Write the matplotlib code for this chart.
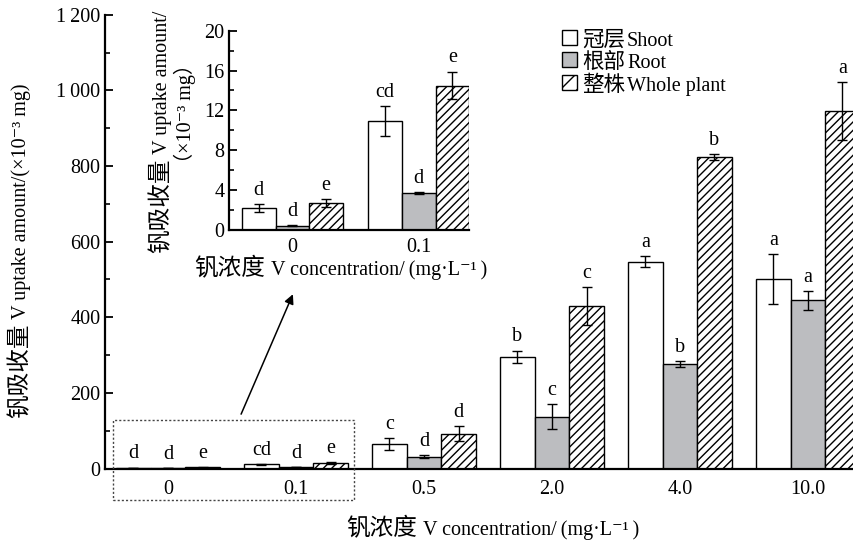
import numpy as np
import matplotlib
matplotlib.use("Agg")
import matplotlib.pyplot as plt
from matplotlib.patches import Rectangle, FancyArrowPatch
from matplotlib.ticker import MultipleLocator, FuncFormatter

plt.rcParams['font.family'] = ['Liberation Serif', 'Noto Sans CJK SC', 'DejaVu Serif']
plt.rcParams['hatch.linewidth'] = 1.0

conc = ['0', '0.1', '0.5', '2.0', '4.0', '10.0']
shoot = [2.2, 10.9, 65, 295, 547, 501]
shoot_err = [0.37, 1.5, 16, 17, 14, 67]
root = [0.43, 3.7, 31, 137, 276, 445]
root_err = [0.05, 0.1, 4, 33, 7.5, 25]
whole = [2.7, 14.5, 92, 430, 823, 945]
whole_err = [0.4, 1.4, 20, 50, 8, 76]
let_shoot = ['d', 'cd', 'c', 'b', 'a', 'a']
let_root = ['d', 'd', 'd', 'c', 'b', 'a']
let_whole = ['e', 'e', 'd', 'c', 'b', 'a']
legend_cn = ['冠层', '根部', '整株']
legend_en = ['Shoot', 'Root', 'Whole plant']

gray = '#bcbdc0'
fs = 14.5      # latin text
fs_cn = 17     # chinese text in axis titles
W, H = 854, 542

fig = plt.figure(figsize=(W / 100, H / 100), dpi=100)


def fx(px):
    return px / W


def fy(py):
    return 1 - py / H


def rich_text(x, y, pieces, rotation=0, gap=5, align='center'):
    # x, y in image pixels; y is the baseline; pieces of (text, size)
    r = fig.canvas.get_renderer()
    widths = []
    for s, sz in pieces:
        t = fig.text(0, 0, s, fontsize=sz)
        widths.append(t.get_window_extent(r).width)
        t.remove()
    total = sum(widths) + gap * (len(pieces) - 1)
    pos = -total / 2 if align == 'center' else 0
    for (s, sz), w in zip(pieces, widths):
        if rotation == 0:
            px, py = x + pos, y
        else:
            px, py = x, y - pos
        cjk = any(ord(c) > 0x3000 for c in s) and not s.startswith('（')
        fig.text(fx(px), fy(py), s, fontsize=sz, rotation=rotation,
                 rotation_mode='anchor', ha='left', va='baseline',
                 fontweight='light' if cjk else 'normal')
        pos += w + gap


def draw_bars(ax, idx, w):
    x = np.arange(len(idx))
    series = [
        (shoot, shoot_err, let_shoot, dict(facecolor='white')),
        (root, root_err, let_root, dict(facecolor=gray)),
        (whole, whole_err, let_whole, dict(facecolor='white', hatch='////')),
    ]
    for k, (vals, errs, lets, style) in enumerate(series):
        v = [vals[i] for i in idx]
        e = [errs[i] for i in idx]
        xs = x + (k - 1) * w
        ax.bar(xs, v, w, yerr=e, edgecolor='black', linewidth=1.0,
               error_kw=dict(ecolor='black', elinewidth=1.0, capsize=3.5, capthick=1.0),
               **style)
        for xi, vi, ei, i in zip(xs, v, e, idx):
            ax.annotate(lets[i], (xi, vi + ei), xytext=(0, 3), textcoords='offset points',
                        ha='center', va='bottom', fontsize=fs)


def style_axes(ax):
    for s in ['top', 'right']:
        ax.spines[s].set_visible(False)
    for s in ['left', 'bottom']:
        ax.spines[s].set_linewidth(1.6)
    ax.tick_params(axis='y', which='major', direction='in', length=6, width=1.3, labelsize=fs)
    ax.tick_params(axis='y', which='minor', direction='in', length=3.5, width=1.2)
    ax.tick_params(axis='x', length=0, labelsize=fs, pad=8)


# main axes
ax = fig.add_axes([fx(105.3), fy(468.5), fx(854 - 105.3), (468.5 - 14.7) / H])
draw_bars(ax, range(6), 0.27)
ax.set_xlim(-0.49, 5.36)
ax.set_ylim(0, 1200)
ax.yaxis.set_major_locator(MultipleLocator(200))
ax.yaxis.set_minor_locator(MultipleLocator(100))
ax.yaxis.set_major_formatter(FuncFormatter(lambda v, p: f'{int(v):,}'.replace(',', '\u2009')))
ax.set_xticks(np.arange(6))
ax.set_xticklabels(conc)
style_axes(ax)
rich_text(26, 251, [('钒吸收量', fs_cn), ('V uptake amount/(×10⁻³ mg)', fs)], rotation=90)
rich_text(493, 535, [('钒浓度', fs_cn), ('V concentration/\u2009(mg·L⁻¹\u2009)', fs)], gap=6)

# dotted box and arrow
fig.patches.append(Rectangle((fx(112.7), fy(500)), fx(354.3 - 112.7), (500 - 420) / H,
                             transform=fig.transFigure, fill=False, linestyle=(0, (1.5, 1.5)),
                             linewidth=1.0, edgecolor='#444444'))
fig.add_artist(FancyArrowPatch(
    (fx(240), fy(416.7)), (fx(294), fy(291.7)), transform=fig.transFigure,
    arrowstyle='-|>', mutation_scale=14, linewidth=1.1, color='black'))

# inset axes
axi = fig.add_axes([fx(229.3), fy(230), fx(240), 199.3 / H])
draw_bars(axi, [0, 1], 0.267)
axi.set_xlim(-0.5, 1.4)
axi.set_ylim(0, 20)
axi.yaxis.set_major_locator(MultipleLocator(4))
axi.yaxis.set_minor_locator(MultipleLocator(2))
axi.set_xticks([0, 1])
axi.set_xticklabels(conc[:2])
style_axes(axi)
axi.tick_params(axis='x', pad=6)
rich_text(167, 132, [('钒吸收量', fs_cn), ('V uptake amount/', fs)], rotation=90)
rich_text(191, 113, [('（×10⁻³ mg）', fs)], rotation=90)
rich_text(341, 275, [('钒浓度', fs_cn), ('V concentration/\u2009(mg·L⁻¹\u2009)', fs)], gap=6)

# legend
legend_style = [dict(facecolor='white'), dict(facecolor=gray), dict(facecolor='white', hatch='//')]
for k, (cn, en, st) in enumerate(zip(legend_cn, legend_en, legend_style)):
    top = [30, 52, 75][k]
    fig.patches.append(Rectangle((fx(562), fy(top + 15)), fx(15), 15 / H, transform=fig.transFigure,
                                 edgecolor='black', linewidth=1.0, **st))
    rich_text(582, [46, 68, 91][k], [(cn, 15.5), (en, fs)], gap=2, align='left')

fig.savefig('out.png', dpi=100)
